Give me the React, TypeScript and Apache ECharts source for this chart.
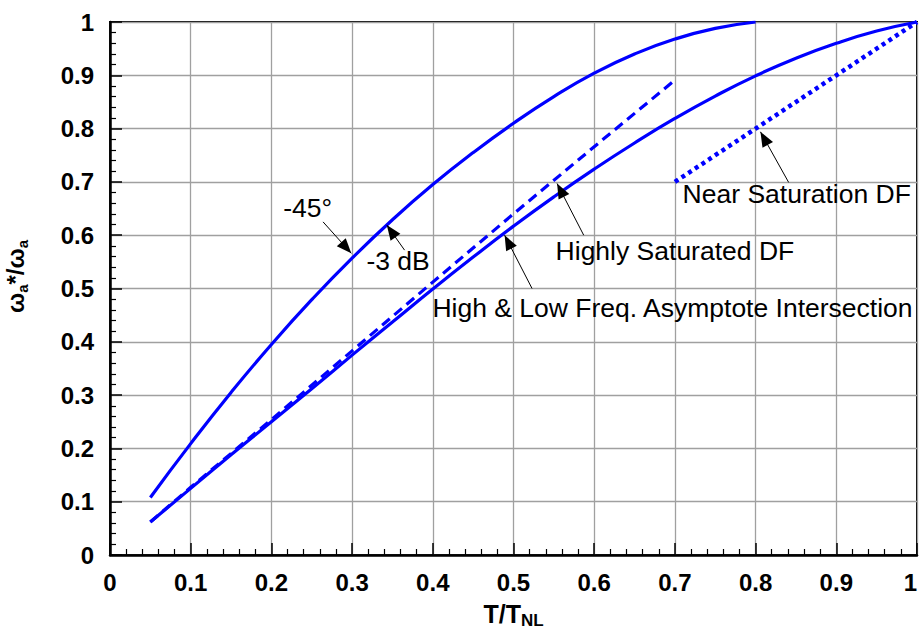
import React, { useEffect, useRef } from "react";
import * as echarts from "echarts";

const FONT = "'Liberation Sans', Arial, sans-serif";
const BLUE = "#0000ff";

// axis tick labels
const xTickLabels = ["0", "0.1", "0.2", "0.3", "0.4", "0.5", "0.6", "0.7", "0.8", "0.9", "1"];
const yTickLabels = ["0", "0.1", "0.2", "0.3", "0.4", "0.5", "0.6", "0.7", "0.8", "0.9", "1"];

// -45 deg curve
const upperX = [0.05, 0.1, 0.15, 0.2, 0.25, 0.3, 0.35, 0.4, 0.45, 0.5, 0.55, 0.6, 0.65, 0.7, 0.75, 0.8];
const upperY = [0.108, 0.209, 0.305, 0.395, 0.479, 0.557, 0.629, 0.695, 0.755, 0.81, 0.86, 0.904, 0.94, 0.968, 0.988, 1.0];

// Highly saturated DF (-3 dB) curve
const lowerX = [0.05, 0.1, 0.15, 0.2, 0.25, 0.3, 0.35, 0.4, 0.45, 0.5, 0.55, 0.6, 0.65, 0.7, 0.75, 0.8, 0.85, 0.9, 0.95, 1.0];
const lowerY = [0.062, 0.125, 0.188, 0.25, 0.312, 0.375, 0.437, 0.499, 0.559, 0.617, 0.672, 0.724, 0.773, 0.819, 0.861, 0.899, 0.932, 0.96, 0.983, 1.0];

// High & low freq. asymptote intersection (dashed)
const asymX = [0.05, 0.1, 0.2, 0.3, 0.4, 0.5, 0.6, 0.7];
const asymY = [0.062, 0.127, 0.254, 0.383, 0.512, 0.64, 0.766, 0.891];

// Near saturation DF (dotted)
const nearX = [0.7, 0.8, 0.9, 1.0];
const nearY = [0.7, 0.8, 0.9, 1.0];

// annotation texts and their anchor (data coords)
const noteTexts = ["-45°", "-3 dB", "High & Low Freq. Asymptote Intersection", "Highly Saturated DF", "Near Saturation DF"];
const noteX = [0.245, 0.357, 0.697, 0.7, 0.851];
const noteY = [0.651, 0.551, 0.464, 0.571, 0.677];

// arrows: start -> tip (data coords)
const arrowFromX = [0.264, 0.365, 0.523, 0.587, 0.841];
const arrowFromY = [0.625, 0.572, 0.5, 0.6, 0.699];
const arrowToX = [0.299, 0.343, 0.489, 0.554, 0.806];
const arrowToY = [0.566, 0.619, 0.6, 0.697, 0.794];

const zip = (a: number[], b: number[]) => a.map((v, i) => [v, b[i]]);

export default function App() {
  const ref = useRef<HTMLDivElement>(null);
  useEffect(() => {
    const chart = echarts.init(ref.current!, null, { renderer: "svg" });
    const fmt = (labels: string[]) => (v: number) => labels[Math.round(v * 10)] ?? "";
    const option: any = {
      animation: false,
      backgroundColor: "#fff",
      textStyle: { fontFamily: FONT },
      grid: {
        left: 110,
        right: 5,
        top: 22,
        bottom: 79,
        show: true,
        borderColor: "#000",
        borderWidth: 2,
        outerBoundsMode: "none",
      },
      xAxis: {
        type: "value",
        min: 0,
        max: 1,
        interval: 0.1,
        name: "{m|T/T}{s|NL}",
        nameLocation: "middle",
        nameGap: 44,
        nameTextStyle: {
          rich: {
            m: { fontSize: 25, fontWeight: "bold", fontFamily: FONT, color: "#000", lineHeight: 30 },
            s: { fontSize: 17, fontWeight: "bold", fontFamily: FONT, color: "#000", lineHeight: 16, verticalAlign: "bottom" },
          },
        },
        axisLine: { show: true, onZero: false, lineStyle: { color: "#000", width: 2.5 } },
        axisTick: { show: true, inside: true, length: 12, lineStyle: { color: "#000", width: 1.5 } },
        minorTick: { show: true, splitNumber: 5, length: 6, lineStyle: { color: "#000", width: 1.2 } },
        splitLine: { show: true, lineStyle: { color: "#a0a0a0", width: 1.3 } },
        axisLabel: {
          fontSize: 24,
          fontWeight: "bold",
          color: "#000",
          fontFamily: FONT,
          margin: 15,
          alignMaxLabel: "right",
          formatter: fmt(xTickLabels),
        },
      },
      yAxis: {
        type: "value",
        min: 0,
        max: 1,
        interval: 0.1,
        name: "{m|ω}{s|a}{m|*/ω}{s|a}",
        nameLocation: "middle",
        nameRotate: 90,
        nameGap: 80,
        nameTextStyle: {
          padding: [0, 0, 0, 24],
          rich: {
            m: { fontSize: 24, fontWeight: "bold", fontFamily: FONT, color: "#000", lineHeight: 30 },
            s: { fontSize: 15, fontWeight: "bold", fontFamily: FONT, color: "#000", lineHeight: 14, verticalAlign: "bottom" },
          },
        },
        axisLine: { show: true, onZero: false, lineStyle: { color: "#000", width: 2.5 } },
        axisTick: { show: true, inside: true, length: 12, lineStyle: { color: "#000", width: 1.5 } },
        minorTick: { show: true, splitNumber: 5, length: 6, lineStyle: { color: "#000", width: 1.2 } },
        splitLine: { show: true, lineStyle: { color: "#a0a0a0", width: 1.3 } },
        axisLabel: {
          fontSize: 24,
          fontWeight: "bold",
          color: "#000",
          fontFamily: FONT,
          margin: 16,
          formatter: fmt(yTickLabels),
        },
      },
      series: [
        {
          name: "-45°",
          type: "line",
          data: zip(upperX, upperY),
          showSymbol: false,
          smooth: 0.5,
          lineStyle: { color: BLUE, width: 3.2 },
          z: 3,
        },
        {
          name: "Highly Saturated DF",
          type: "line",
          data: zip(lowerX, lowerY),
          showSymbol: false,
          smooth: 0.5,
          lineStyle: { color: BLUE, width: 3.2 },
          z: 3,
        },
        {
          name: "High & Low Freq. Asymptote Intersection",
          type: "line",
          data: zip(asymX, asymY),
          showSymbol: false,
          lineStyle: { color: BLUE, width: 3.2, type: [10, 6] },
          z: 3,
        },
        {
          name: "Near Saturation DF",
          type: "line",
          data: zip(nearX, nearY),
          showSymbol: false,
          lineStyle: { color: BLUE, width: 4.5, type: [4, 4], cap: "butt" },
          z: 3,
        },
        {
          name: "notes",
          type: "scatter",
          silent: true,
          clip: false,
          symbolSize: 1,
          itemStyle: { color: "rgba(255,255,255,0)" },
          z: 5,
          data: noteTexts.map((t, i) => ({ name: t, value: [noteX[i], noteY[i]] })),
          label: {
            show: true,
            position: "inside",
            formatter: "{b}",
            fontSize: 26.5,
            color: "#000",
            opacity: 1,
            textBorderWidth: 0,
            fontFamily: FONT,
          },
          markLine: {
            silent: true,
            symbol: ["none", "triangle"],
            symbolSize: [12, 15],
            symbolOffset: [[0, 0], [0, 7.5]],
            lineStyle: { color: "#000", width: 1, type: "solid" },
            itemStyle: { color: "#000" },
            label: { show: false },
            emphasis: { disabled: true },
            data: arrowFromX.map((x, i) => [
              { coord: [x, arrowFromY[i]] },
              { coord: [arrowToX[i], arrowToY[i]] },
            ]),
          },
        },
      ],
    };
    chart.setOption(option);
    return () => chart.dispose();
  }, []);
  return (
    <div
      ref={ref}
      style={{ position: "fixed", left: 0, top: 0, width: 922, height: 634, background: "#fff" }}
    />
  );
}
